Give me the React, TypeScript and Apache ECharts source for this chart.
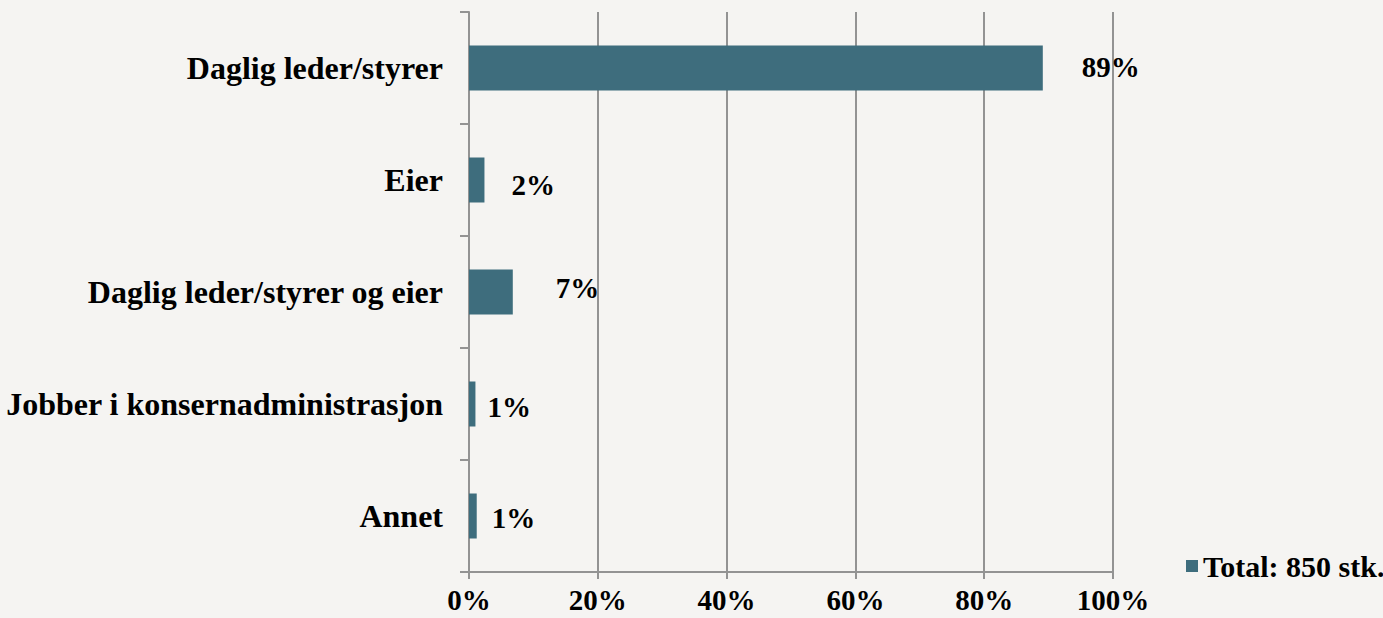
import React, { useEffect, useRef } from "react";
import * as echarts from "echarts";

const categories = [
  "Daglig leder/styrer",
  "Eier",
  "Daglig leder/styrer og eier",
  "Jobber i konsernadministrasjon",
  "Annet",
];
const values = [89.1, 2.4, 6.8, 1.0, 1.2];
const seriesName = "Total: 850 stk.";
const xTicks = [0, 20, 40, 60, 80, 100];

// label placement tweaks (layout, not data)
const labelDistance = [39, 27, 43, 12, 15];
const labelDy = [-1, 5, -4, 3, 2];

const FONT = "'Liberation Serif', 'DejaVu Serif', serif";
const BAR = "#3e6d7d";
const GRID = "#939393";
const BG = "#f5f4f2";

export default function App() {
  const ref = useRef<HTMLDivElement>(null);
  useEffect(() => {
    document.body.style.margin = "0";
    document.body.style.background = BG;
    const chart = echarts.init(ref.current!, null, { renderer: "svg" });
    chart.setOption({
      animation: false,
      backgroundColor: BG,
      grid: { left: 469, right: 270, top: 12, bottom: 46, containLabel: false },
      legend: {
        data: [seriesName],
        left: 1186,
        top: 551,
        padding: 0,
        itemWidth: 12,
        itemHeight: 12,
        icon: "rect",
        textStyle: {
          fontFamily: FONT,
          fontWeight: "bold",
          fontSize: 30,
          color: "#000",
          lineHeight: 30,
        },
      },
      xAxis: {
        type: "value",
        min: xTicks[0],
        max: xTicks[xTicks.length - 1],
        interval: 20,
        axisLine: { show: true, lineStyle: { color: GRID, width: 2 } },
        axisTick: { show: true, length: 7, lineStyle: { color: GRID, width: 2 } },
        splitLine: { show: true, lineStyle: { color: GRID, width: 2 } },
        axisLabel: {
          formatter: (v: number) => v + "%",
          fontFamily: FONT,
          fontWeight: "bold",
          fontSize: 29,
          color: "#000",
          margin: 13,
        },
      },
      yAxis: {
        type: "category",
        data: categories,
        inverse: true,
        axisLine: { show: true, lineStyle: { color: GRID, width: 2 } },
        axisTick: { show: true, length: 9, lineStyle: { color: GRID, width: 2 } },
        splitLine: { show: false },
        axisLabel: {
          fontFamily: FONT,
          fontWeight: "bold",
          fontSize: 32,
          color: "#000",
          margin: 26,
        },
      },
      series: [
        {
          name: seriesName,
          type: "bar",
          barWidth: 45,
          itemStyle: { color: BAR },
          data: values.map((v, i) => ({
            value: v,
            label: {
              show: true,
              position: "right",
              distance: labelDistance[i],
              offset: [0, labelDy[i]],
              formatter: (p: any) => Math.round(p.value) + "%",
              fontFamily: FONT,
              fontWeight: "bold",
              fontSize: 29,
              color: "#000",
            },
          })),
        },
      ],
    });
    return () => chart.dispose();
  }, []);
  return <div ref={ref} style={{ width: 1383, height: 618, background: BG }} />;
}
